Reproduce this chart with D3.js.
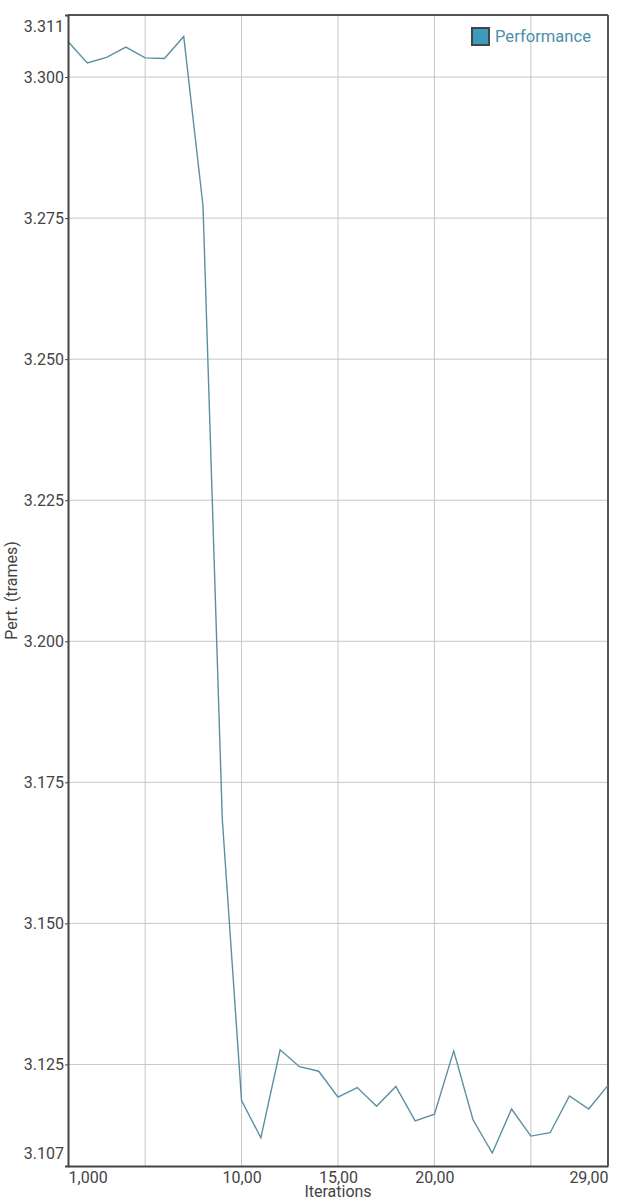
<!DOCTYPE html>
<html><head><meta charset="utf-8">
<script src="https://cdn.jsdelivr.net/npm/d3@7"></script>
<style>body{margin:0;background:#fff;} text{font-family:Roboto,"Noto Sans",sans-serif;}</style>
</head><body>
<svg id="c" width="638" height="1200"></svg>
<script>
const iterations = d3.range(1, 30);
const performance = [3.3063,3.3025,3.3035,3.3053,3.3034,3.3033,3.3072,3.2772,3.1685,
  3.1186,3.1120,3.1276,3.1246,3.1238,3.1192,3.1209,3.1176,3.1211,3.1150,3.1162,
  3.1274,3.1152,3.1093,3.1171,3.1123,3.1129,3.1194,3.1171,3.1213];
const yTicks = [3.107,3.125,3.150,3.175,3.200,3.225,3.250,3.275,3.300,3.311];
const yTickLabels = ["3.107","3.125","3.150","3.175","3.200","3.225","3.250","3.275","3.300","3.311"];
const xGridTicks = [5,10,15,20,25];
const xLabelTicks = [1,10,15,20,29];
const xTickLabels = ["1,000","10,00","15,00","20,00","29,00"];
const seriesName = "Performance";

const svg = d3.select("#c");
const L=68,R=608,T=15,B=1166;
const x = d3.scaleLinear().domain([1,29]).range([L,R]);
const y = d3.scaleLinear().domain([3.107,3.311]).range([B,T]);

// grid
svg.append("g").selectAll("line").data(yTicks.slice(1,-1)).join("line")
  .attr("x1",L).attr("x2",R).attr("y1",d=>y(d)).attr("y2",d=>y(d))
  .attr("stroke","#c6c6c6").attr("stroke-width",1);
svg.append("g").selectAll("line").data(xGridTicks).join("line")
  .attr("y1",T).attr("y2",B).attr("x1",d=>x(d)).attr("x2",d=>x(d))
  .attr("stroke","#c6c6c6").attr("stroke-width",1);

// frame top/right
svg.append("line").attr("x1",L).attr("x2",R).attr("y1",T).attr("y2",T).attr("stroke","#555").attr("stroke-width",2);
svg.append("line").attr("x1",R).attr("x2",R).attr("y1",T).attr("y2",B).attr("stroke","#555").attr("stroke-width",2);

// line
const line = d3.line().x((d,i)=>x(iterations[i])).y(d=>y(d));
svg.append("path").datum(performance).attr("d",line)
  .attr("fill","none").attr("stroke","#5a8fa2").attr("stroke-width",1.4);

// axes
const yAxis = d3.axisLeft(y).tickValues(yTicks).tickFormat((d,i)=>yTickLabels[i]).tickSize(3).tickPadding(1);
const gy = svg.append("g").attr("transform",`translate(${L},0)`).call(yAxis);
gy.select(".domain").attr("stroke","#444").attr("stroke-width",2);
gy.selectAll(".tick line").attr("stroke","#444");
gy.selectAll(".tick text").attr("font-size",16).attr("fill","#444")
  .attr("font-family","Roboto,sans-serif")
  .attr("dy",(d)=> d===3.311 ? "1.05em" : d===3.107 ? "-0.45em" : "0.32em");

const xAxis = d3.axisBottom(x).tickValues(xLabelTicks).tickFormat((d,i)=>xTickLabels[i]).tickSize(0).tickPadding(6);
const gx = svg.append("g").attr("transform",`translate(0,${B})`).call(xAxis);
gx.select(".domain").attr("stroke","#444").attr("stroke-width",2);
gx.selectAll(".tick text").attr("font-size",16).attr("fill","#444")
  .attr("font-family","Roboto,sans-serif")
  .attr("text-anchor",(d)=> d===1 ? "start" : d===29 ? "end" : "middle")
  .attr("dy","0.71em");

// axis titles
svg.append("text").attr("x",(L+R)/2).attr("y",1197).attr("text-anchor","middle")
  .attr("font-size",16).attr("fill","#444").text("Iterations");
svg.append("text").attr("transform",`translate(17,${(T+B)/2}) rotate(-90)`).attr("text-anchor","middle")
  .attr("font-size",16).attr("fill","#444").text("Pert. (trames)");

// legend
const lg = svg.append("g");
lg.append("rect").attr("x",472).attr("y",28).attr("width",17).attr("height",17)
  .attr("fill","#3c9abd").attr("stroke","#444").attr("stroke-width",2);
lg.append("text").attr("x",495).attr("y",42).attr("font-size",16.6).attr("fill","#4b8fa8").text(seriesName);
</script>
</body></html>
